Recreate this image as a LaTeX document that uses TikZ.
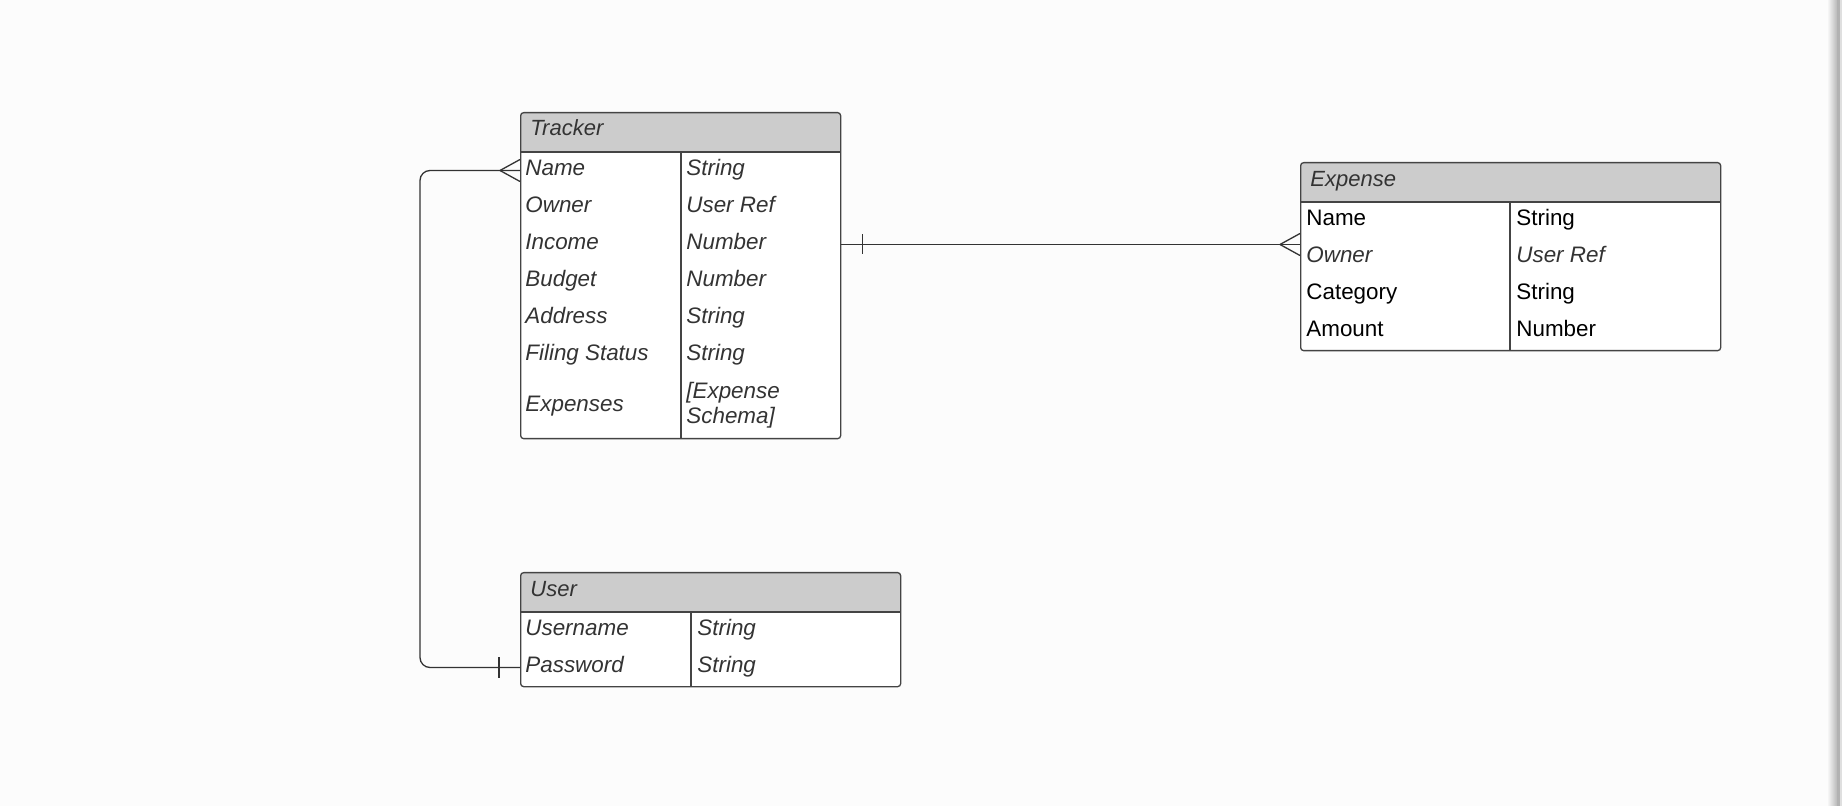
\documentclass[tikz,border=0pt]{standalone}
\usepackage{fontspec}
\setmainfont{Liberation Sans}

\definecolor{pagebg}{RGB}{252,252,252}
\definecolor{hdrgray}{RGB}{204,204,204}
\definecolor{linegray}{RGB}{68,68,68}
\definecolor{inkgray}{RGB}{51,51,51}

\tikzset{
  entity/.style={draw=linegray, fill=white, line width=0.65pt, rounded corners=1.5pt,
    anchor=north west, inner sep=0pt,
    path picture={\fill[hdrgray] (path picture bounding box.north west)
      rectangle ([yshift=-20pt]path picture bounding box.north east);}},
  title/.style={anchor=base west, inner sep=0pt, text=inkgray,
    font=\fontsize{11}{13}\selectfont\itshape},
  field/.style={anchor=west, inner sep=0pt, text height=8pt, text depth=2.5pt,
    text=inkgray, font=\fontsize{11.2}{12.5}\selectfont\itshape},
  plainfield/.style={field, text=black, font=\fontsize{11.2}{12.5}\selectfont},
  fieldwrap/.style={anchor=west, inner sep=0pt, align=left, text=inkgray,
    font=\fontsize{11.2}{12.5}\selectfont\itshape},
  rule/.style={draw=linegray, line width=0.65pt},
  conn/.style={draw=inkgray, line width=0.65pt}
}

\begin{document}
\begin{tikzpicture}[x=0.5pt, y=-0.5pt]
  \useasboundingbox (0,0) rectangle (1842,806);
  \fill[pagebg] (0,0) rectangle (1842,806);
  % page edge
  \shade[left color=pagebg, right color=gray!55] (1827,0) rectangle (1837,806);
  \fill[gray!60] (1837,0) rectangle (1839.5,806);
  \fill[gray!25] (1839.5,0) rectangle (1842,806);

  % Tracker
  \node[entity, minimum width=160pt, minimum height=163pt] (tracker) at (520,112) {};
  \node[title] (tracker-title) at (530,136) {Tracker};
  \draw[rule] (520,152) -- (840,152);
  \draw[rule] (681,152) -- (681,438);
  \foreach \field/\kind [count=\i] in {Name/String, Owner/User Ref, Income/Number,
      Budget/Number, Address/String, Filing Status/String} {
    \node[field] (tf\i) at (525,{152+37*\i-18.5}) {\field};
    \node[field] (tk\i) at (686,{152+37*\i-18.5}) {\kind};
  }
  \node[field] (tf7) at (525,406) {Expenses};
  \node[fieldwrap] (tk7) at (686,405) {[Expense\\Schema]};

  % Expense
  \node[entity, minimum width=210pt, minimum height=94pt] (expense) at (1300,162) {};
  \node[title] (expense-title) at (1310,187) {Expense};
  \draw[rule] (1300,202) -- (1720,202);
  \draw[rule] (1510,202) -- (1510,350);
  \foreach \field/\kind/\look [count=\i] in {Name/String/plainfield, Owner/User Ref/field,
      Category/String/plainfield, Amount/Number/plainfield} {
    \node[\look] (ef\i) at (1306,{202+37*\i-18.5}) {\field};
    \node[\look] (ek\i) at (1516,{202+37*\i-18.5}) {\kind};
  }

  % User
  \node[entity, minimum width=190pt, minimum height=57pt] (user) at (520,572) {};
  \node[title] (user-title) at (530,597) {User};
  \draw[rule] (520,612) -- (900,612);
  \draw[rule] (691,612) -- (691,686);
  \foreach \field/\kind [count=\i] in {Username/String, Password/String} {
    \node[field] (uf\i) at (525,{612+37*\i-18.5}) {\field};
    \node[field] (uk\i) at (697,{612+37*\i-18.5}) {\kind};
  }

  % tracker -- expense
  \coordinate (trk-out) at (tracker.east |- tk3);
  \coordinate (exp-in) at (expense.west |- tk3);
  \draw[conn] (trk-out) -- (exp-in);
  \draw[conn] (trk-out) ++(21,-10) -- ++(0,20);
  \draw[conn] (exp-in) ++(-20,0) -- ++(20,-11) (exp-in) ++(-20,0) -- ++(20,11);

  % tracker -- user
  \coordinate (trk-in) at (tracker.west |- tf1);
  \coordinate (usr-out) at (user.west |- uf2);
  \draw[conn, rounded corners=5pt] (trk-in) -- ++(-100,0) |- (usr-out);
  \draw[conn] (trk-in) ++(-20,0) -- ++(20,-11) (trk-in) ++(-20,0) -- ++(20,11);
  \draw[conn] (usr-out) ++(-21,-10) -- ++(0,20);
\end{tikzpicture}
\end{document}
